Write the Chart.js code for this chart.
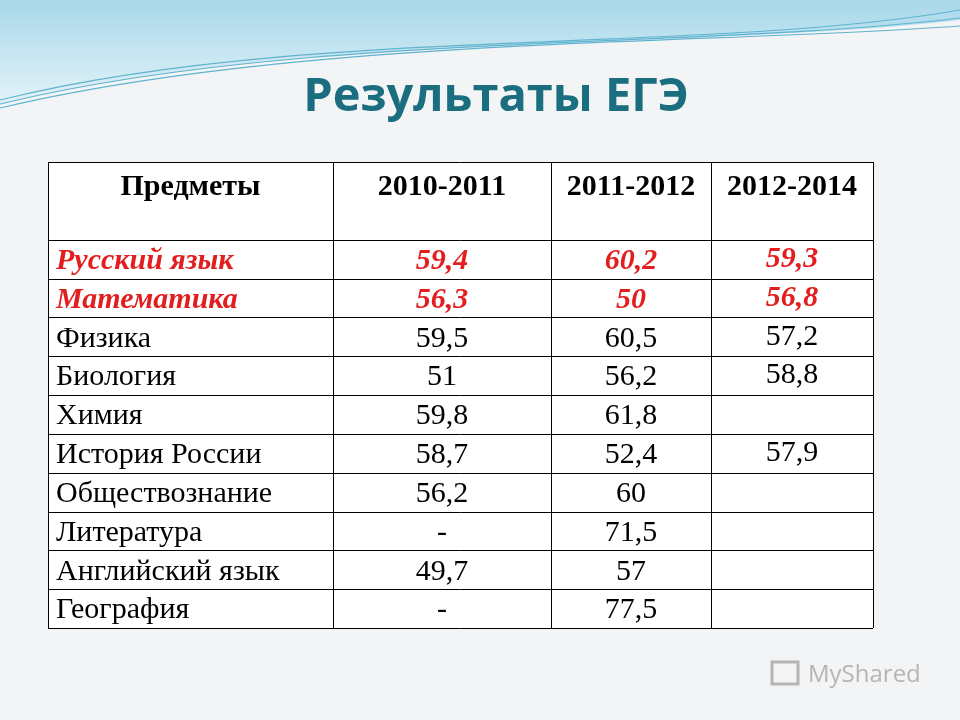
<!DOCTYPE html>
<html><head><meta charset="utf-8">
<script src="https://cdn.jsdelivr.net/npm/chart.js@4"></script>
<style>
html,body{margin:0;padding:0;background:#f3f4f6;}
#wrap{width:960px;height:720px;position:relative;}
</style></head>
<body><div id="wrap"><canvas id="c"></canvas></div>
<script>
const headers = ['Предметы', '2010-2011', '2011-2012', '2012-2014'];
const subjects = ['Русский язык', 'Математика', 'Физика', 'Биология', 'Химия', 'История России',
  'Обществознание', 'Литература', 'Английский язык', 'География'];
const y2011 = ['59,4', '56,3', '59,5', '51', '59,8', '58,7', '56,2', '-', '49,7', '-'];
const y2012 = ['60,2', '50', '60,5', '56,2', '61,8', '52,4', '60', '71,5', '57', '77,5'];
const y2014 = ['59,3', '56,8', '57,2', '58,8', '', '57,9', '', '', '', ''];
const highlighted = [0, 1];

// column edges in x-scale units
const colEdges = [0, 2.85, 5.03, 6.63, 8.25];

const tablePlugin = {
  id: 'table',
  beforeDraw(chart) {
    const ctx = chart.ctx, w = chart.width;
    // wave background
    ctx.save();
    const g = ctx.createLinearGradient(0, 0, 0, 110);
    g.addColorStop(0, '#a8d8ea'); g.addColorStop(1, '#e6f4f9');
    ctx.fillStyle = g;
    ctx.beginPath();
    ctx.moveTo(0, 0); ctx.lineTo(w, 0); ctx.lineTo(w, 20);
    ctx.bezierCurveTo(700, 50, 300, 30, 0, 105);
    ctx.closePath(); ctx.fill();
    ctx.strokeStyle = '#5fb3cf'; ctx.lineWidth = 1.2;
    for (let k = 0; k < 3; k++) {
      ctx.beginPath();
      ctx.moveTo(0, 100 + k * 4);
      ctx.bezierCurveTo(300, 25 + k * 6, 700, 55 - k * 5, w, 10 + k * 8);
      ctx.stroke();
    }
    ctx.restore();
  },
  afterDraw(chart) {
    const ctx = chart.ctx, xs = chart.scales.x, ys = chart.scales.y;
    const X = v => xs.getPixelForValue(v), Y = v => ys.getPixelForValue(v);
    ctx.save();
    ctx.fillStyle = '#ffffff';
    ctx.fillRect(X(0), Y(0), X(colEdges[4]) - X(0), Y(12) - Y(0));
    ctx.strokeStyle = '#000'; ctx.lineWidth = 1;
    [0, 2, 3, 4, 5, 6, 7, 8, 9, 10, 11, 12].forEach(r => {
      const y = Math.round(Y(r)) + 0.5;
      ctx.beginPath(); ctx.moveTo(X(0), y); ctx.lineTo(X(colEdges[4]), y); ctx.stroke();
    });
    colEdges.forEach(c => {
      const x = Math.round(X(c)) + 0.5;
      ctx.beginPath(); ctx.moveTo(x, Y(0)); ctx.lineTo(x, Y(12)); ctx.stroke();
    });
    // header
    ctx.fillStyle = '#000';
    ctx.font = 'bold 30px "Liberation Serif"';
    ctx.textAlign = 'center'; ctx.textBaseline = 'middle';
    headers.forEach((h, i) => ctx.fillText(h, (X(colEdges[i]) + X(colEdges[i + 1])) / 2, Y(0) + 25));
    // rows
    const cols = [y2011, y2012, y2014];
    subjects.forEach((s, r) => {
      const hi = highlighted.includes(r);
      ctx.fillStyle = hi ? '#e31e1e' : '#000';
      ctx.font = (hi ? 'italic bold ' : '') + '30px "Liberation Serif"';
      const yc = (Y(2 + r) + Y(3 + r)) / 2 + 2;
      ctx.textAlign = 'left';
      ctx.fillText(s, X(0) + 8, yc);
      ctx.textAlign = 'center';
      cols.forEach((col, i) => {
        if (col[r]) ctx.fillText(col[r], (X(colEdges[i + 1]) + X(colEdges[i + 2])) / 2, yc - (i === 2 ? 2 : 0));
      });
    });
    // title
    ctx.fillStyle = '#1b6e80';
    ctx.font = 'bold 47px "Open Sans"';
    ctx.textAlign = 'center';
    ctx.fillText('Результаты ЕГЭ', 496, 98);
    // watermark
    ctx.fillStyle = '#b5b5b5';
    ctx.font = '24px "Open Sans"';
    ctx.textAlign = 'left';
    ctx.fillText('MyShared', 808, 675);
    ctx.strokeStyle = '#b5b5b5'; ctx.lineWidth = 3;
    ctx.strokeRect(772, 662, 26, 22);
    ctx.restore();
  }
};

new Chart(document.getElementById('c'), {
  type: 'scatter',
  data: { datasets: [{ data: [] }] },
  options: {
    responsive: true, maintainAspectRatio: false, animation: false,
    layout: { padding: { left: 48, right: 87, top: 162, bottom: 92 } },
    plugins: { legend: { display: false }, tooltip: { enabled: false } },
    scales: {
      x: { type: 'linear', min: 0, max: colEdges[4], display: false },
      y: { type: 'linear', min: 0, max: 12, reverse: true, display: false }
    }
  },
  plugins: [tablePlugin]
});
</script></body></html>
